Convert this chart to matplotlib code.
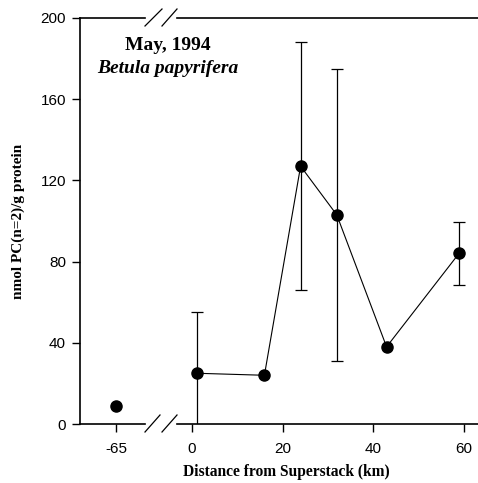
import matplotlib
matplotlib.use("Agg")
import matplotlib.pyplot as plt
from matplotlib.lines import Line2D

plt.rcParams['axes.unicode_minus'] = False

# ---- data ----
distance = [-65, 1, 16, 24, 32, 43, 59]
pc_value = [9, 25, 24, 127, 103, 38, 84]
err_distance = [1, 24, 32, 59]
err_value = [25, 127, 103, 84]
err_size = [30, 61, 72, 15.5]
left_ticks = [-65]
right_ticks = [0, 20, 40, 60]
y_ticks = [0, 40, 80, 120, 160, 200]

W, H = 478, 483
fig = plt.figure(figsize=(W / 100, H / 100), dpi=100)

bottom = 1 - 424 / H
top = 1 - 18 / H
height = top - bottom
axL = fig.add_axes([80 / W, bottom, (145 - 80) / W, height])
axR = fig.add_axes([177 / W, bottom, (478 - 177) / W, height])

px_per_unit = 90.5 / 20
axL.set_xlim(-65 - 36 / px_per_unit, -65 + 29 / px_per_unit)
axR.set_xlim(-15 / px_per_unit, 286 / px_per_unit)
for ax in (axL, axR):
    ax.set_ylim(0, 200)
    ax.spines['right'].set_visible(False)
    for s in ('top', 'bottom', 'left'):
        ax.spines[s].set_linewidth(1.2)
    ax.tick_params(direction='out', length=6, width=1, labelsize=11)
axR.spines['left'].set_visible(False)
axR.tick_params(axis='y', left=False, labelleft=False)
axL.set_yticks(y_ticks)
axL.set_xticks(left_ticks)
axR.set_xticks(right_ticks)
for ax in (axL, axR):
    ax.tick_params(axis='x', pad=7)
    ax.tick_params(axis='y', pad=4)
    for lab in ax.get_xticklabels() + ax.get_yticklabels():
        lab.set_fontfamily('Liberation Sans')

# left segment point
axL.plot(distance[:1], pc_value[:1], 'o', color='black', markersize=8, clip_on=False)
# right segment
axR.errorbar(err_distance, err_value, yerr=err_size, fmt='none', ecolor='black',
             elinewidth=0.9, capsize=4.5, capthick=0.9)
axR.plot(distance[1:], pc_value[1:], '-o', color='black', linewidth=0.8,
         markersize=8)

# break marks
def fl(x0, y0, x1, y1):
    fig.add_artist(Line2D([x0 / W, x1 / W], [1 - y0 / H, 1 - y1 / H],
                          color='black', linewidth=0.9))
fl(145, 432, 160, 415)
fl(162, 432, 177, 415)
fl(145, 26, 162, 9)
fl(162, 26, 177, 9)

# texts
serif = 'Liberation Serif'
fig.text(168 / W, 1 - 45 / H, 'May, 1994', ha='center', va='center',
         fontfamily=serif, fontweight='bold', fontsize=14)
fig.text(168 / W, 1 - 69 / H, 'Betula papyrifera', ha='center', va='center',
         fontfamily=serif, fontweight='bold', fontstyle='italic', fontsize=14)
fig.text(18 / W, 1 - 221 / H, 'nmol PC(n=2)/g protein', rotation=90,
         ha='center', va='center', fontfamily=serif, fontweight='bold', fontsize=11)
fig.text(286 / W, 1 - 472 / H, 'Distance from Superstack (km)', ha='center',
         va='center', fontfamily=serif, fontweight='bold', fontsize=11.2)

fig.savefig('out.png', dpi=100)
